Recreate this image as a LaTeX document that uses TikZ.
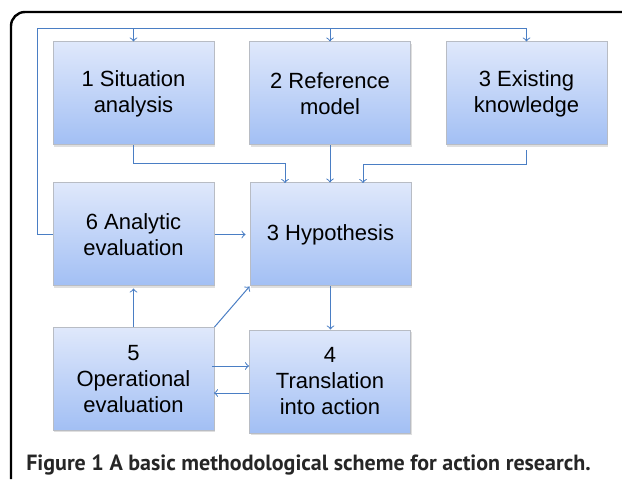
\documentclass[tikz,border=0pt]{standalone}
\usepackage{fontspec}
\setmainfont{Liberation Sans}
\newfontfamily\capfont{PT Sans}
\usepackage{tikz}
\usetikzlibrary{arrows}
\usetikzlibrary{shadows}
\definecolor{boxtop}{HTML}{DFE8FB}
\definecolor{boxbottom}{HTML}{A2BFF4}
\definecolor{boxline}{HTML}{B8BCC4}
\definecolor{flowline}{HTML}{4A7EC4}
\begin{document}
\begin{tikzpicture}[x=0.5pt,y=-0.5pt,
	stepbox/.style={draw=boxline,line width=0.5pt,top color=boxtop,bottom color=boxbottom,minimum width=80.5pt,minimum height=51.5pt,align=center,font=\fontsize{11}{13}\selectfont,drop shadow={shadow xshift=0.6pt,shadow yshift=-0.8pt,opacity=0.25}},
	flow/.style={draw=flowline,line width=0.5pt,->}
	]
	\useasboundingbox (0,0) rectangle (622,481);
	% frame
	\draw[line width=1.2pt,rounded corners=7pt] (11,479) -- (11,12) -- (622,12);
	% boxes
	\node[stepbox] (situation) at (133.5,93.5) {1 Situation\\analysis};
	\node[stepbox] (reference) at (330,93.5) {2 Reference\\model};
	\node[stepbox] (existing) at (526.5,93.5) {3 Existing\\knowledge};
	\node[stepbox] (analytic) at (133.5,234.5) {6 Analytic\\evaluation};
	\node[stepbox] (hypothesis) at (330.5,234.5) {3 Hypothesis};
	\node[stepbox] (operational) at (133.5,379) {5\\Operational\\evaluation};
	\node[stepbox] (translation) at (330,381.5) {4\\Translation\\into action};
	% feedback loop
	\coordinate (loopleft) at (37,29);
	\coordinate (loopright) at (526.5,29);
	\draw[flowline,line width=0.5pt] (analytic.west) -| (loopleft) -- (loopright);
	\draw[flow] (loopright) -- (existing.north);
	\draw[flow] (situation.north |- loopleft) -- (situation.north);
	\draw[flow] (reference.north |- loopleft) -- (reference.north);
	% into hypothesis
	\draw[flow] (situation.south) |- (285,164) -- (285,183);
	\draw[flow] (reference.south) -- (hypothesis.north -| reference.south);
	\draw[flow] ([yshift=-2.5pt]existing.south) |- (363,165) -- (363,183);
	\draw[flow] (analytic.east) -- ([xshift=-2pt]hypothesis.west);
	% lower part
	\draw[flow] (operational.north) -- ([yshift=-1pt]analytic.south);
	\draw[flow] (operational.north east) -- (hypothesis.south west);
	\draw[flow] (hypothesis.south) -- (translation.north -| hypothesis.south);
	\draw[flow] (212,366) -- (translation.west |- 0,366);
	\draw[flow] (translation.west |- 0,393) -- (214,393);
	% caption
	\node[font=\capfont\bfseries\fontsize{11}{13}\selectfont,text=black!85] (caption) at (308.5,465) {Figure 1 A basic methodological scheme for action research.};
\end{tikzpicture}
\end{document}
